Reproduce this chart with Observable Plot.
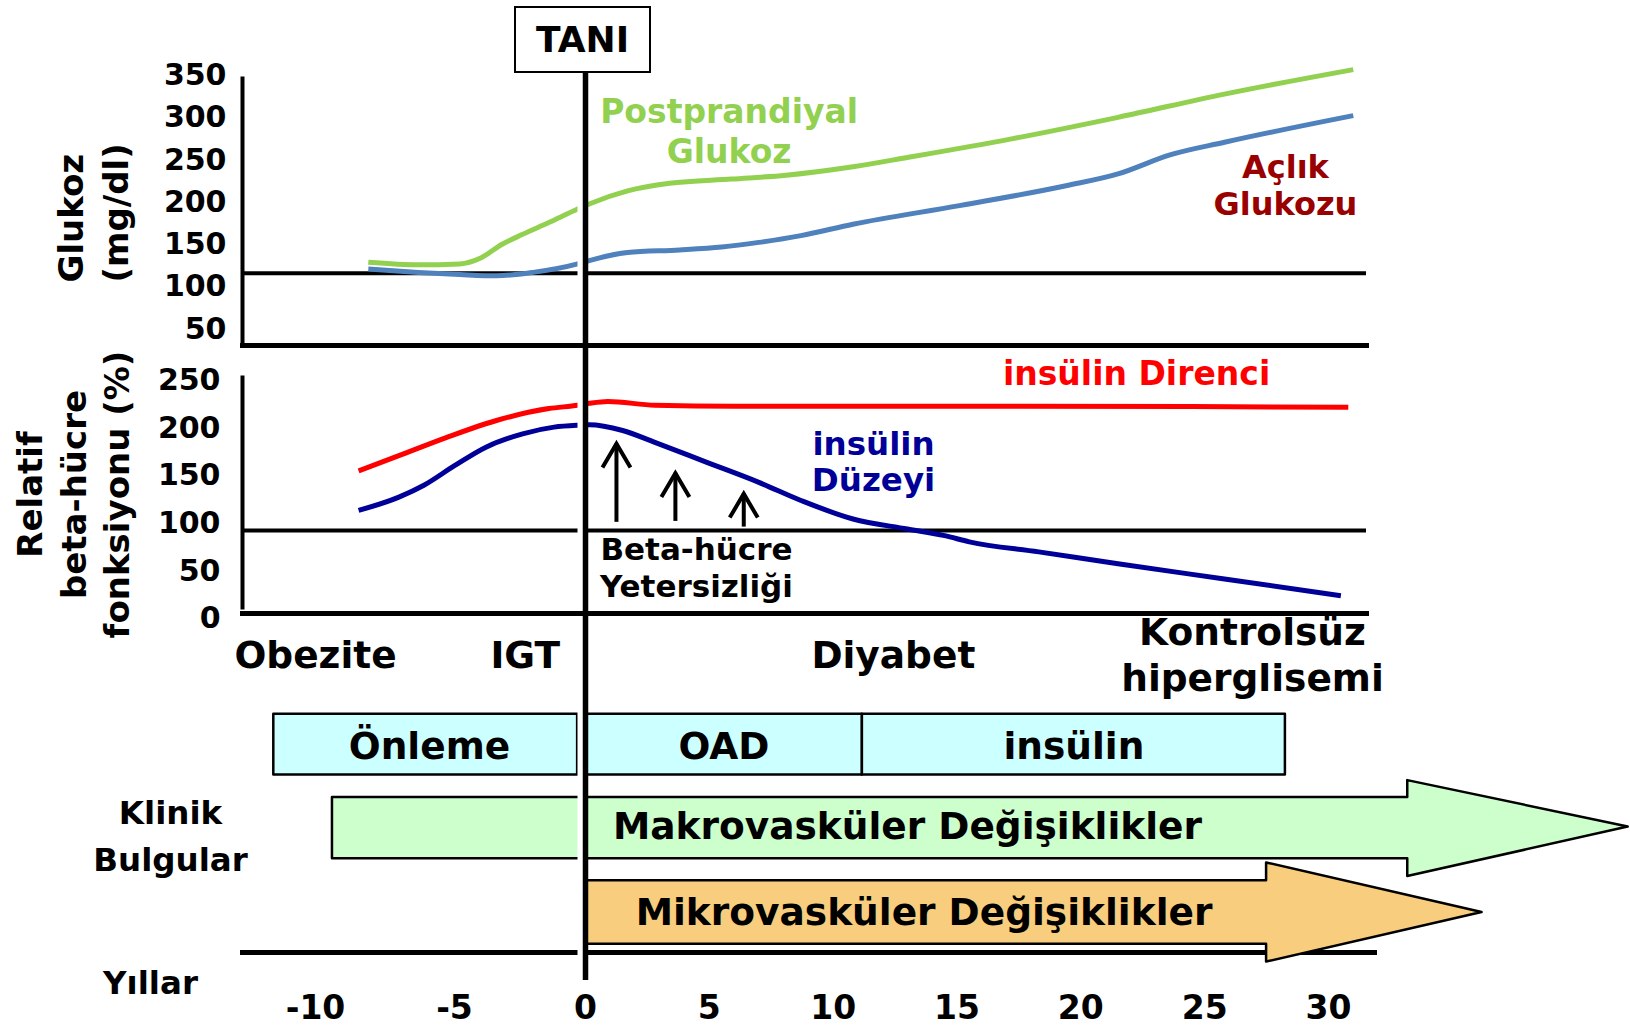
<!DOCTYPE html>
<html>
<head>
<meta charset="utf-8">
<script src="https://cdn.jsdelivr.net/npm/d3@7"></script>
<script src="https://cdn.jsdelivr.net/npm/@observablehq/plot@0.6"></script>
<style>
  html, body { margin: 0; padding: 0; background: #fff; overflow: hidden; }
  #chart { position: relative; width: 1630px; height: 1030px; font-family: 'DejaVu Sans', Verdana, sans-serif; }
  #chart svg { position: absolute; left: 0; top: 0; }
  #tani { position: absolute; left: 514px; top: 6px; width: 137px; height: 67px; box-sizing: border-box;
          border: 2.5px solid #000; background: #fff; font: bold 36px 'DejaVu Sans', Verdana, sans-serif;
          display: flex; align-items: center; justify-content: center; z-index: 5; }
</style>
</head>
<body>
<div id="chart"><div id="tani">TANI</div></div>
<script>
// ---------------- data ----------------
const yearTicks = [-10, -5, 0, 5, 10, 15, 20, 25, 30];
const glucoseTicks = [50, 100, 150, 200, 250, 300, 350];
const betaTicks = [0, 50, 100, 150, 200, 250];

// [year, mg/dl]
const postprandial = [[-8.1,129],[-6.3,126],[-4.8,127],[-4.0,134],[-3.2,150],[-2.4,162],[-1.4,176],[-0.3,192],
  [0.15,198],[1.7,213.5],[3.4,222.5],[5.9,227.5],[8.1,232],[10.8,242],[13.0,253],[17.2,275],[21.5,300.5],[25.8,328],[31.0,357]];
const fasting = [[-8.1,121],[-6.3,117],[-4.8,114.5],[-3.4,113],[-2.0,117],[-0.3,127],[0.15,131],[1.7,140.5],
  [3.8,143.5],[5.5,147],[7.0,152.5],[8.7,160.5],[10.8,174],[15.1,196],[19.4,219.5],[21.5,233.5],[23.6,256],[25.8,271],[31.0,302.5]];
// [year, %]
const insulinResistance = [[-8.45,155],[-7.0,171],[-5.3,190],[-3.4,208],[-1.4,220.5],[-0.3,224],[0.15,226],[0.9,228],
  [2.8,224],[6,223],[15,223],[30.8,222]];
const insulinLevel = [[-8.45,113.5],[-7.0,127.5],[-6.1,140],[-5.0,160.5],[-3.8,180],[-2.4,194],[-1.2,201],[-0.3,203],
  [0.15,203.5],[1.5,197.5],[2.8,185],[4.9,164],[7.0,143],[8.7,124],[10.8,104.5],[13.0,94],[14.5,87],[15.5,80.5],
  [18.3,70],[21.5,57.5],[25.8,41.5],[30.5,24]];

const glucoseRef = [116];
const betaRef = [92.5];

const betaArrows = [
  {year: 1.25, base: 101, tip: 183.5},
  {year: 3.63, base: 102, tip: 152.6},
  {year: 6.39, base: 96, tip: 131}
];

const stages = [
  {label: "Obezite", year: -10},
  {label: "IGT", year: -2.3},
  {label: "Diyabet", year: 12.43},
  {label: "Kontrolsüz\nhiperglisemi", year: 26.93}
];
const treatments = [
  {label: "Önleme", start: -11.5, end: -0.3},
  {label: "OAD", start: 0, end: 11.18},
  {label: "insülin", start: 11.18, end: 28.26}
];
const macro = [{label: "Makrovasküler Değişiklikler", start: -9.39, shaftEnd: 33.2, tip: 42.1, labelYear: 13.0}];
const micro = [{label: "Mikrovasküler Değişiklikler", start: 0, shaftEnd: 27.5, tip: 36.2, labelYear: 13.67}];

const glucoseLabels = [
  {text: "Postprandiyal\nGlukoz", year: 5.8, value: 285},
  {text: "Açlık\nGlukozu", year: 28.26, value: 221.3}
];
const betaLabels = [
  {text: "insülin Direnci", year: 22.25, value: 256.3},
  {text: "insülin\nDüzeyi", year: 11.63, value: 165.2},
  {text: "Beta-hücre\nYetersizliği", year: 4.48, value: 54.1}
];

// ---------------- layout helpers ----------------
const ROW = {stage: 0, treatment: 1, macro: 2, micro: 3};
const xOpt = {type: "linear", domain: [-10, -5, 0, 30], range: [315, 454, 585, 1328]};
const svgStyle = "font-family: 'DejaVu Sans', Verdana, sans-serif; font-weight: bold; background: transparent; overflow: visible;";
const common = {width: 1630, height: 1030, marginLeft: 242, marginRight: 264, style: svgStyle};
const lineOpts = (stroke) => ({x: d => d[0], y: d => d[1], stroke, strokeWidth: 5, curve: "monotone-x", strokeLinecap: "butt"});

function boxPolys(items, row, half) {
  return items.flatMap((d, i) => [
    {id: i, x: d.start, y1: row - half, y2: row + half},
    {id: i, x: d.end, y1: row - half, y2: row + half}
  ]);
}
function arrowPolys(items, row, shaft, head) {
  return items.flatMap((d, i) => [
    {id: i, x: d.start, y1: row - shaft, y2: row + shaft},
    {id: i, x: d.shaftEnd, y1: row - shaft, y2: row + shaft},
    {id: i, x: d.shaftEnd, y1: row - head, y2: row + head},
    {id: i, x: d.tip, y1: row, y2: row}
  ]);
}
const chevron = {
  draw(ctx, size) {
    const r = Math.sqrt(size / Math.PI);
    ctx.moveTo(-r, 1.7 * r);
    ctx.lineTo(0, 0);
    ctx.lineTo(r, 1.7 * r);
  }
};
const halo = (opts) => Plot.ruleX([0], {stroke: "white", strokeWidth: 7, dx: -4.5, ...opts});

// ---------------- panel 1 : glucose ----------------
const p1 = Plot.plot({
  ...common,
  marginTop: 68, marginBottom: 685,
  x: {...xOpt, axis: null},
  y: {type: "linear", domain: [50, 350], range: [328.5, 75]},
  marks: [
    Plot.axisY(glucoseTicks, {tickSize: 0, tickPadding: 16, fontSize: 30, fontWeight: "bold", label: null}),
    Plot.text(["Glukoz\n(mg/dl)"], {frameAnchor: "left", rotate: -90, textAnchor: "start", lineAnchor: "middle",
      lineHeight: 1.32, dx: -151, dy: 75.5, fontSize: 34, fontWeight: "bold"}),
    Plot.ruleY(glucoseRef, {strokeWidth: 4}),
    Plot.line(fasting, lineOpts("#4F81BD")),
    Plot.line(postprandial, lineOpts("#92D050")),
    Plot.text(glucoseLabels.slice(0, 1), {x: "year", y: "value", text: "text", fill: "#92D050", fontSize: 33, lineHeight: 1.21, fontWeight: "bold"}),
    Plot.text(glucoseLabels.slice(1), {x: "year", y: "value", text: "text", fill: "#990000", fontSize: 32, lineHeight: 1.17, fontWeight: "bold"}),
    halo({}),
    Plot.frame({anchor: "left", strokeWidth: 4, insetTop: 10, insetBottom: 3}),
    Plot.frame({anchor: "bottom", strokeWidth: 5})
  ]
});

// ---------------- panel 2 : beta cell ----------------
const p2 = Plot.plot({
  ...common,
  marginTop: 345, marginBottom: 417,
  x: {...xOpt, axis: null},
  y: {type: "linear", domain: [0, 250], range: [618, 380]},
  marks: [
    Plot.axisY(betaTicks, {tickSize: 0, tickPadding: 22, fontSize: 30, fontWeight: "bold", label: null}),
    Plot.text(["Relatif\nbeta-hücre\nfonksiyonu (%)"], {frameAnchor: "left", rotate: -90, textAnchor: "middle", lineAnchor: "middle",
      lineHeight: 1.29, dx: -171, dy: 15, fontSize: 34, fontWeight: "bold"}),
    Plot.ruleY(betaRef, {strokeWidth: 4}),
    Plot.line(insulinResistance, lineOpts("#FF0000")),
    Plot.line(insulinLevel, lineOpts("#000099")),
    Plot.ruleX(betaArrows, {x: "year", y1: "base", y2: "tip", strokeWidth: 4}),
    Plot.dot(betaArrows, {x: "year", y: "tip", symbol: chevron, r: 14, stroke: "black", strokeWidth: 4, fill: "none", strokeLinejoin: "miter"}),
    Plot.text(betaLabels.slice(0, 1), {x: "year", y: "value", text: "text", fill: "#FF0000", fontSize: 33, fontWeight: "bold"}),
    Plot.text(betaLabels.slice(1, 2), {x: "year", y: "value", text: "text", fill: "#000099", fontSize: 32.5, lineHeight: 1.1, fontWeight: "bold"}),
    Plot.text(betaLabels.slice(2), {x: "year", y: "value", text: "text", fill: "black", fontSize: 31, lineHeight: 1.19, fontWeight: "bold"}),
    halo({insetTop: 3}),
    Plot.frame({anchor: "left", strokeWidth: 4, insetTop: 32, insetBottom: 6}),
    Plot.frame({anchor: "bottom", strokeWidth: 5})
  ]
});

// ---------------- panel 3 : timeline ----------------
const p3 = Plot.plot({
  ...common,
  marginTop: 68, marginBottom: 78, marginRight: 256,
  x: xOpt,
  y: {type: "linear", domain: [0, 1, 2, 3], range: [653, 746.5, 826.5, 912], axis: null},
  marks: [
    Plot.frame({anchor: "bottom", strokeWidth: 5}),
    Plot.axisX(yearTicks, {tickSize: 0, tickPadding: 43, tickFormat: d => String(d), fontSize: 33, fontWeight: "bold", label: null}),
    Plot.text(stages, {x: "year", y: () => ROW.stage, text: "label", fontSize: 37.5, lineHeight: 1.23, fontWeight: "bold"}),
    Plot.area(boxPolys(treatments, ROW.treatment, 0.35), {x1: "x", y1: "y1", y2: "y2", z: "id", fill: "#CCFFFF", stroke: "black", strokeWidth: 2.5, curve: "linear"}),
    Plot.text(treatments, {x: d => (d.start + d.end) / 2, y: () => ROW.treatment, text: "label", fontSize: 37.5, fontWeight: "bold"}),
    Plot.area(arrowPolys(macro, ROW.macro, 0.37, 0.58), {x1: "x", y1: "y1", y2: "y2", z: "id", fill: "#CCFFCC", stroke: "black", strokeWidth: 2.5, curve: "linear"}),
    Plot.area(arrowPolys(micro, ROW.micro, 0.37, 0.58), {x1: "x", y1: "y1", y2: "y2", z: "id", fill: "#F8CE7E", stroke: "black", strokeWidth: 2.5, curve: "linear"}),
    Plot.text(macro, {x: "labelYear", y: () => ROW.macro, text: "label", fontSize: 37.5, fontWeight: "bold"}),
    Plot.text(micro, {x: "labelYear", y: () => ROW.micro, text: "label", fontSize: 37.5, fontWeight: "bold"}),
    Plot.text(["Klinik\nBulgular"], {frameAnchor: "left", y: () => 2.06, dx: -72, textAnchor: "middle", lineAnchor: "middle",
      fontSize: 32.5, lineHeight: 1.44, fontWeight: "bold"}),
    Plot.text(["Yıllar"], {frameAnchor: "bottom-left", dx: -92, dy: 31, textAnchor: "middle", lineAnchor: "middle",
      fontSize: 32.5, fontWeight: "bold"}),
    halo({insetTop: 550, insetBottom: -3}),
    Plot.ruleX([0], {stroke: "black", strokeWidth: 5.5, insetBottom: -28})
  ]
});

const chart = document.getElementById("chart");
const tani = document.getElementById("tani");
chart.insertBefore(p1, tani);
chart.insertBefore(p2, tani);
chart.insertBefore(p3, tani);
</script>
</body>
</html>
